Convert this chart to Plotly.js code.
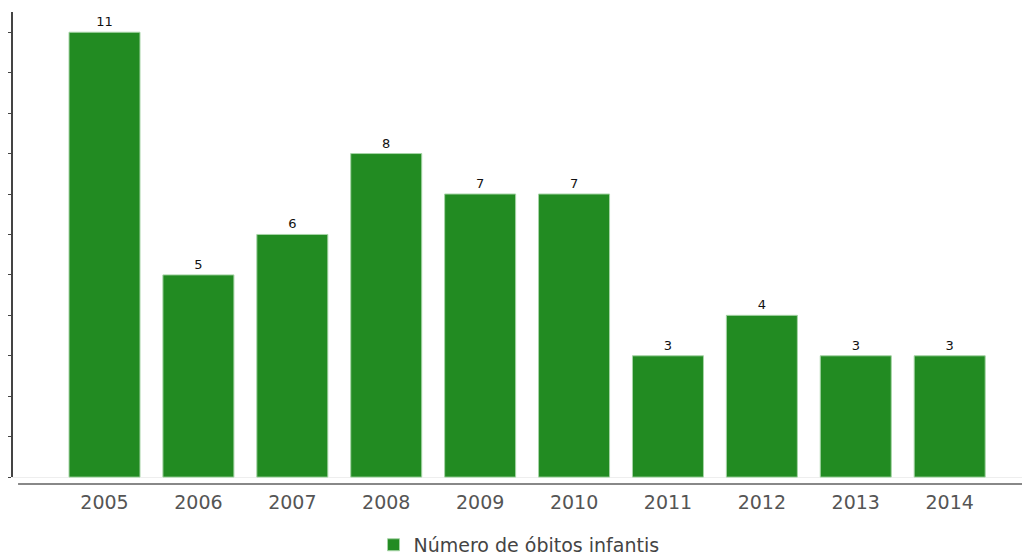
<!DOCTYPE html>
<html><head><meta charset="utf-8">
<script src="https://cdn.plot.ly/plotly-3.0.1.min.js"></script>
<style>html,body{margin:0;padding:0;background:#fff}#c{width:1026px;height:555px}</style>
</head><body><div id="c"></div>
<script>
const years = ['2005','2006','2007','2008','2009','2010','2011','2012','2013','2014'];
const obitos = [11, 5, 6, 8, 7, 7, 3, 4, 3, 3];
const seriesName = 'Número de óbitos infantis';
const yTicks = [0,1,2,3,4,5,6,7,8,9,10,11];

const trace = {
  type: 'bar', x: years, y: obitos, name: seriesName,
  marker: {color: '#228B22', line: {color: '#a6d4a6', width: 1}},
  text: obitos.map(String), textposition: 'outside', cliponaxis: false,
  textfont: {family: 'DejaVu Sans, sans-serif', size: 13, color: '#111'},
  hoverinfo: 'skip'
};
const layout = {
  width: 1026, height: 555,
  margin: {l: 12, r: 4, t: 12, b: 71, autoexpand: false},
  paper_bgcolor: '#fff', plot_bgcolor: '#fff',
  bargap: 0.244,
  showlegend: true,
  legend: {orientation: 'h', x: 0.502, xanchor: 'center', y: -0.129, yanchor: 'middle',
    font: {family: 'DejaVu Sans, sans-serif', size: 19, color: '#444'}},
  xaxis: {type: 'category', range: [-0.985, 9.77], showline: false, showgrid: false,
    ticks: '', ticklabelstandoff: 5, tickfont: {family: 'DejaVu Sans, sans-serif', size: 19, color: '#555'}, fixedrange: true},
  yaxis: {range: [-0.17, 11.5], showgrid: false, showline: false, zeroline: true, zerolinecolor: '#eeeeee', zerolinewidth: 1,
    tickvals: yTicks, ticks: 'outside', ticklen: 3, tickcolor: '#444', tickwidth: 1, showticklabels: false, fixedrange: true},
  shapes: [
    {type: 'line', xref: 'paper', yref: 'y', x0: 0, x1: 0, y0: 0, y1: 11.5, line: {color: '#444', width: 2}},
    {type: 'line', xref: 'paper', yref: 'paper', x0: 0.006, x1: 1, y0: 0, y1: 0, line: {color: '#888', width: 2}}
  ]
};
Plotly.newPlot('c', [trace], layout, {displayModeBar: false, staticPlot: true});
</script></body></html>
